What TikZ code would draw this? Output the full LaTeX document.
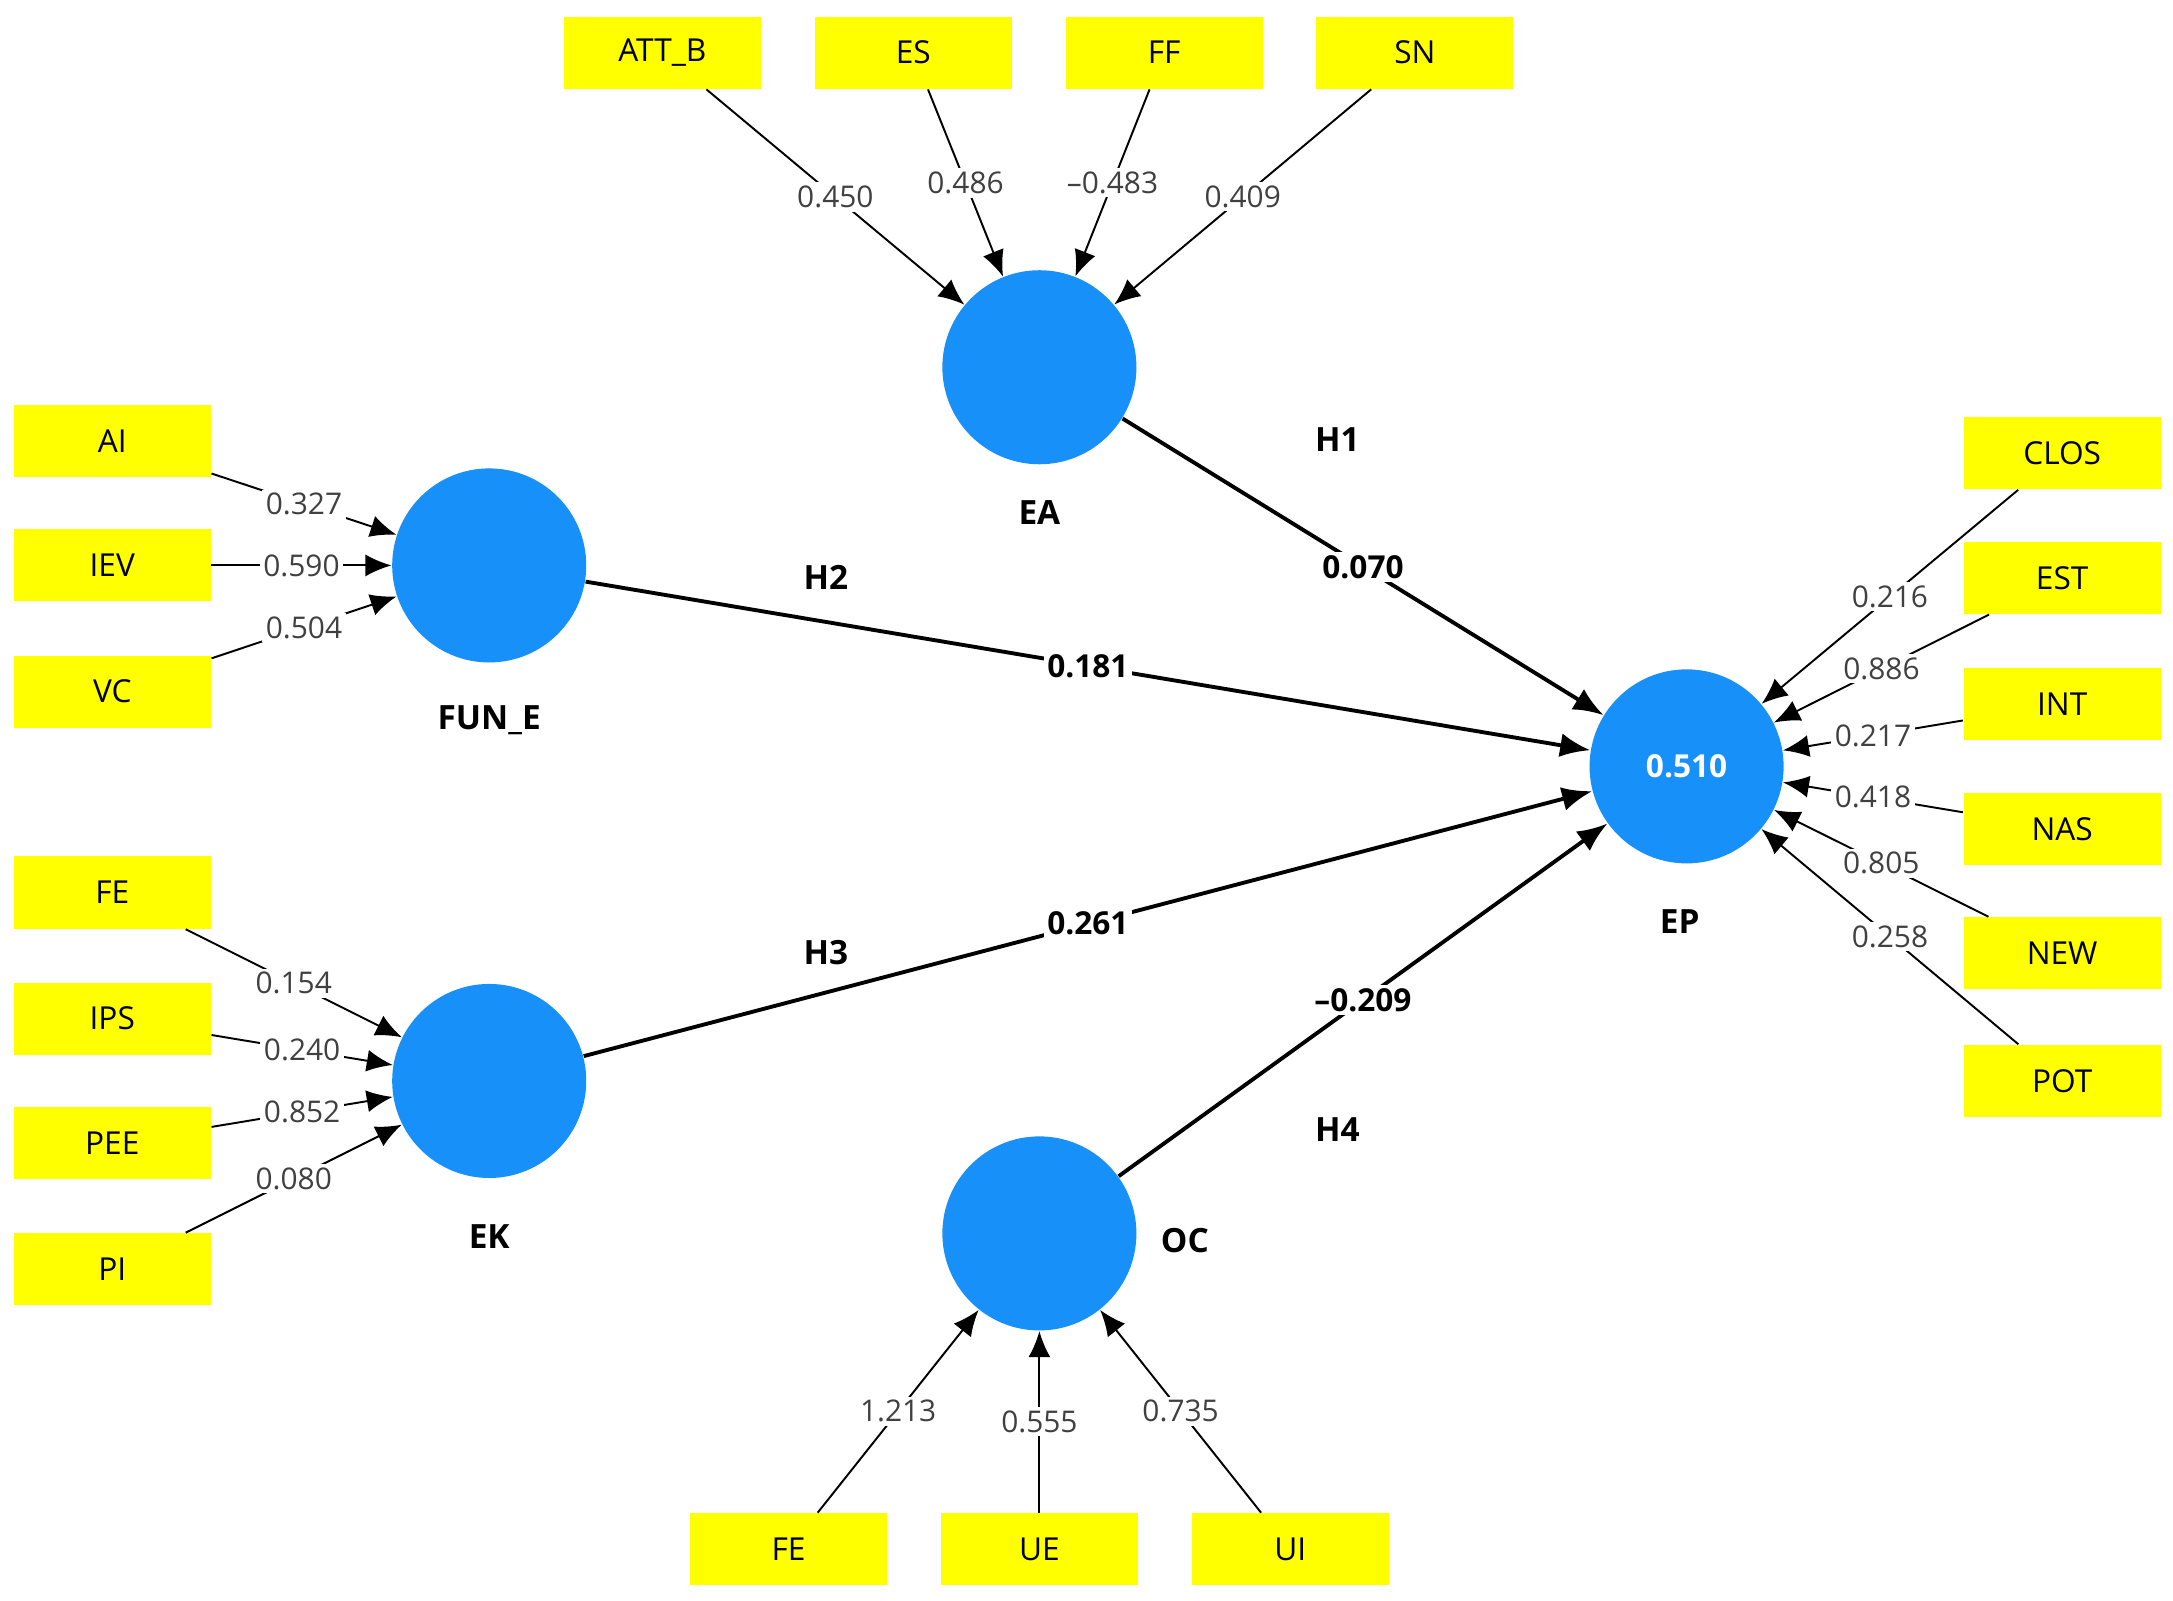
\documentclass[tikz,border=0pt]{standalone}
\usepackage{fontspec}
\setmainfont{Open Sans}
\usepackage{xcolor}
\usetikzlibrary{arrows.meta, quotes}
\definecolor{lvblue}{RGB}{23,144,250}
\definecolor{mvyellow}{RGB}{255,255,0}

\begin{document}
\begin{tikzpicture}[x=0.01386cm, y=-0.01386cm,
    ind/.style={rectangle,fill=mvyellow,minimum width=1.97cm,minimum height=0.72cm,inner sep=0pt,font=\fontsize{9}{10}\selectfont},
    lv/.style={circle,fill=lvblue,minimum size=1.94cm,inner sep=0pt,text=white,font=\bfseries\fontsize{9}{10}\selectfont},
    lbl/.style={font=\bfseries\fontsize{9.5}{11}\selectfont},
    Arr/.style={-{Latex[length=2.6mm,width=2.2mm]},line width=0.55pt},
    Path/.style={-{Latex[length=3mm,width=2.4mm]},line width=1.1pt},
    every edge quotes/.style={fill=white,inner sep=1pt,pos=.5,font=\fontsize{8.5}{10}\selectfont,text=black!75},
    ]
    \useasboundingbox (0,0) rectangle (1568,1155);
    % latent variables
    \node[lv] (EA)   at (750,265) {};
    \node[lv] (FUNE) at (353,408) {};
    \node[lv] (EK)   at (353,780) {};
    \node[lv] (OC)   at (750,890) {};
    \node[lv] (EP)   at (1217,553) {0.510};
    \node[lbl] (EA_l)   at (750,370) {EA};
    \node[lbl] (FUNE_l) at (353,520) {FUN\_E};
    \node[lbl] (EK_l)   at (353,892) {EK};
    \node[lbl] (OC_l)   at (855,895) {OC};
    \node[lbl] (EP_l)   at (1212,665) {EP};
    % indicators
    \node[ind] (ATTB) at (478,38) {ATT\_B};
    \node[ind] (ES)   at (659,38) {ES};
    \node[ind] (FF)   at (840,38) {FF};
    \node[ind] (SN)   at (1021,38) {SN};
    \node[ind] (AI)   at (81,318) {AI};
    \node[ind] (IEV)  at (81,408) {IEV};
    \node[ind] (VC)   at (81,499) {VC};
    \node[ind] (FEk)  at (81,644) {FE};
    \node[ind] (IPS)  at (81,735) {IPS};
    \node[ind] (PEE)  at (81,825) {PEE};
    \node[ind] (PI)   at (81,916) {PI};
    \node[ind] (CLOS) at (1488,327) {CLOS};
    \node[ind] (EST)  at (1488,417) {EST};
    \node[ind] (INT)  at (1488,508) {INT};
    \node[ind] (NAS)  at (1488,598) {NAS};
    \node[ind] (NEW)  at (1488,688) {NEW};
    \node[ind] (POT)  at (1488,780) {POT};
    \node[ind] (FEo)  at (569,1118) {FE};
    \node[ind] (UE)   at (750,1118) {UE};
    \node[ind] (UI)   at (931,1118) {UI};
    % outer weights
    \draw[Arr] (ATTB) edge["0.450"] (EA) (ES) edge["0.486"] (EA)
               (FF) edge["--0.483"] (EA) (SN) edge["0.409"] (EA);
    \draw[Arr] (AI) edge["0.327"] (FUNE) (IEV) edge["0.590"] (FUNE) (VC) edge["0.504"] (FUNE);
    \draw[Arr] (FEk) edge["0.154"] (EK) (IPS) edge["0.240"] (EK)
               (PEE) edge["0.852"] (EK) (PI) edge["0.080"] (EK);
    \draw[Arr] (CLOS) edge["0.216"] (EP) (EST) edge["0.886"] (EP) (INT) edge["0.217"] (EP)
               (NAS) edge["0.418"] (EP) (NEW) edge["0.805"] (EP) (POT) edge["0.258"] (EP);
    \draw[Arr] (FEo) edge["1.213"] (OC) (UE) edge["0.555"] (OC) (UI) edge["0.735"] (OC);
    % path coefficients
    \tikzset{every edge quotes/.append style={font=\bfseries\fontsize{9}{10}\selectfont,text=black}}
    \draw[Path] (EA) edge["0.070"] (EP) (FUNE) edge["0.181"] (EP)
                (EK) edge["0.261"] (EP) (OC) edge["--0.209"] (EP);
    \node[lbl] (H1) at (965,317) {H1};
    \node[lbl] (H2) at (596,417) {H2};
    \node[lbl] (H3) at (596,687) {H3};
    \node[lbl] (H4) at (965,815) {H4};
\end{tikzpicture}
\end{document}
